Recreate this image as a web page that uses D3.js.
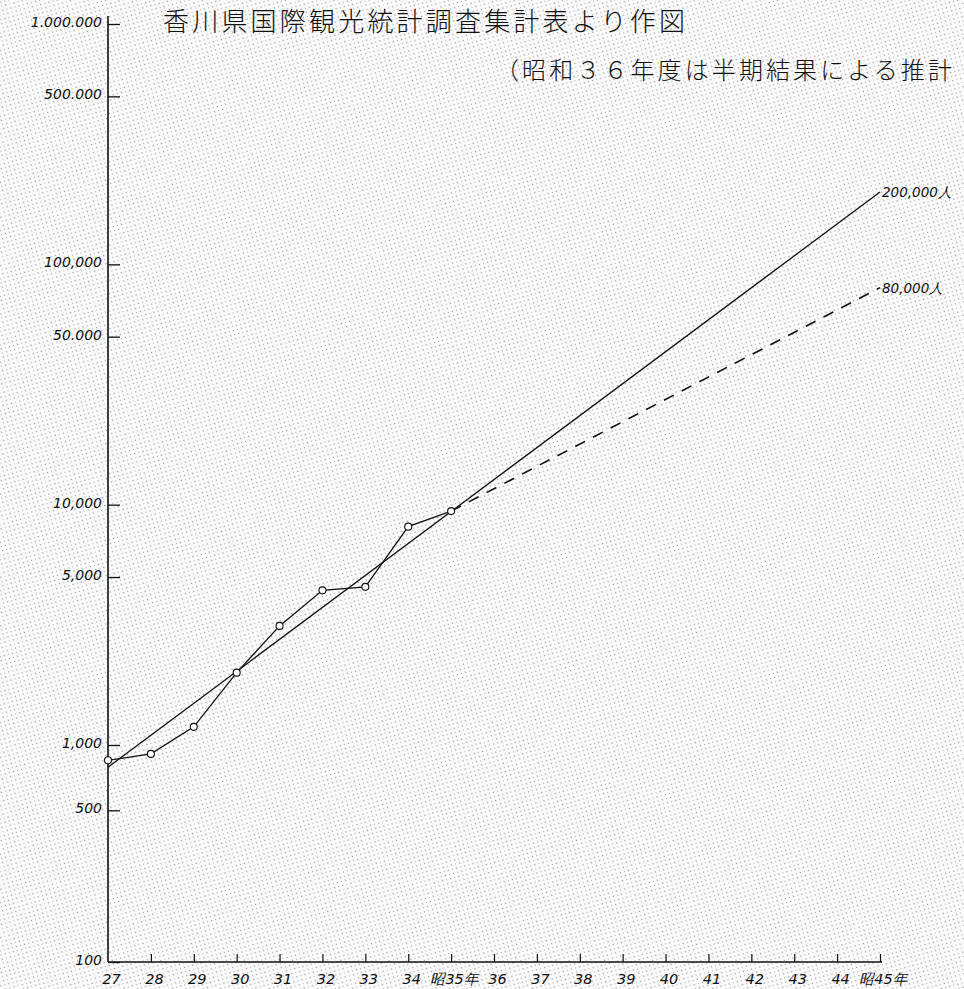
<!DOCTYPE html>
<html>
<head>
<meta charset="utf-8">
<script src="https://cdn.jsdelivr.net/npm/d3@7"></script>
<style>
  html, body { margin: 0; padding: 0; background: #fff; overflow: hidden; }
  svg { display: block; }
  .title { font-family: "Noto Sans CJK JP", sans-serif; font-weight: 300; fill: #111; }
  .hand { font-family: "DejaVu Sans", sans-serif; font-style: italic; fill: #111; }
</style>
</head>
<body>
<svg id="chart" width="964" height="989"></svg>
<script>
// Foreign visitors to Kagawa Prefecture (persons per fiscal year, Showa era)
const obsYears = [27, 28, 29, 30, 31, 32, 33, 34, 35];
const obsVisitors = [850, 910, 1190, 2000, 3130, 4400, 4550, 8100, 9400];

// Fitted trend to Showa 45 (200,000) and the lower projection (80,000)
const trendYears = [27, 45];
const trendValues = [790, 200000];
const projYears = [35, 45];
const projValues = [9400, 80000];

const yTickValues = [100, 500, 1000, 5000, 10000, 50000, 100000, 500000, 1000000];
const yTickLabels = ["100", "500", "1,000", "5,000", "10,000", "50.000", "100,000", "500.000", "1.000.000"];

const xTickValues = d3.range(27, 46);
const xTickLabels = ["27", "28", "29", "30", "31", "32", "33", "34", "昭35年", "36", "37", "38", "39", "40", "41", "42", "43", "44", "昭45年"];

const endLabels = ["200,000人", "80,000人"];

const svg = d3.select("#chart");

// halftone paper texture
const defs = svg.append("defs");
const pat = defs.append("pattern")
  .attr("id", "dots").attr("width", 6).attr("height", 6)
  .attr("patternUnits", "userSpaceOnUse")
  .attr("patternTransform", "rotate(30)");
pat.append("rect").attr("width", 6).attr("height", 6).attr("fill", "#fbfbfb");
pat.append("circle").attr("cx", 1.5).attr("cy", 1.5).attr("r", 0.8).attr("fill", "#9c9c9c");
pat.append("circle").attr("cx", 4.5).attr("cy", 4.5).attr("r", 0.7).attr("fill", "#b4b4b4");
svg.append("rect").attr("width", 964).attr("height", 989).attr("fill", "url(#dots)");

// scales: the hand-drawn bottom decade is compressed, so the log scale is piecewise
const x = d3.scaleLinear().domain([27, 45]).range([108, 880]);
const y = d3.scaleLog().domain([100, 1000, 1000000]).range([962, 745, 24]);

// titles
svg.append("text").attr("class", "title")
  .attr("x", 163).attr("y", 31)
  .attr("font-size", 26).attr("letter-spacing", 3.2)
  .text("香川県国際観光統計調査集計表より作図");
svg.append("text").attr("class", "title")
  .attr("x", 495).attr("y", 79)
  .attr("font-size", 24).attr("letter-spacing", 3.1)
  .text("（昭和３６年度は半期結果による推計");

// y axis
const yAxis = d3.axisLeft(y)
  .tickValues(yTickValues)
  .tickFormat((d, i) => yTickLabels[i])
  .tickSizeInner(-12).tickSizeOuter(0).tickPadding(6);
const gy = svg.append("g").attr("transform", `translate(${x(27)},0)`).call(yAxis);
gy.select(".domain").attr("d", `M0,16V${y(100)}`).attr("stroke", "#111").attr("stroke-width", 1.6);
gy.selectAll(".tick line").attr("stroke", "#111").attr("stroke-width", 1.3);
gy.selectAll(".tick text").attr("class", "hand").attr("font-size", 14)
  .attr("transform", "translate(0,-2)");

// x axis
const xAxis = d3.axisBottom(x)
  .tickValues(xTickValues)
  .tickFormat((d, i) => xTickLabels[i])
  .tickSizeInner(-8).tickSizeOuter(0).tickPadding(12);
const gx = svg.append("g").attr("transform", `translate(0,${y(100)})`).call(xAxis);
gx.select(".domain").attr("d", `M${x(27)},0H${x(45) + 2}`).attr("stroke", "#111").attr("stroke-width", 1.4);
gx.selectAll(".tick line").attr("stroke", "#111").attr("stroke-width", 1.2)
  .filter(d => d === 27).remove();
gx.selectAll(".tick text").attr("class", "hand").attr("font-size", 14.5)
  .attr("text-anchor", "middle")
  .attr("transform", "translate(3,0)");

// trend and projection lines
const line = d3.line().x(d => x(d[0])).y(d => y(d[1]));
svg.append("path")
  .attr("d", line(d3.zip(trendYears, trendValues)))
  .attr("fill", "none").attr("stroke", "#111").attr("stroke-width", 1.3);
svg.append("path")
  .attr("d", line(d3.zip(projYears, projValues)))
  .attr("fill", "none").attr("stroke", "#111").attr("stroke-width", 1.6)
  .attr("stroke-dasharray", "11,9");

// observed series
const obs = d3.zip(obsYears, obsVisitors);
svg.append("path")
  .attr("d", line(obs))
  .attr("fill", "none").attr("stroke", "#111").attr("stroke-width", 1.3);
svg.selectAll("circle.pt").data(obs).join("circle")
  .attr("class", "pt")
  .attr("cx", d => x(d[0])).attr("cy", d => y(d[1])).attr("r", 3.5)
  .attr("fill", "#fff").attr("stroke", "#111").attr("stroke-width", 1.1);

// end labels
const ends = [[trendYears[1], trendValues[1]], [projYears[1], projValues[1]]];
svg.selectAll("text.endlab").data(ends).join("text")
  .attr("class", "hand")
  .attr("x", d => x(d[0]) + 2).attr("y", d => y(d[1]) + 5)
  .attr("font-size", 13.5)
  .text((d, i) => endLabels[i]);
</script>
</body>
</html>
